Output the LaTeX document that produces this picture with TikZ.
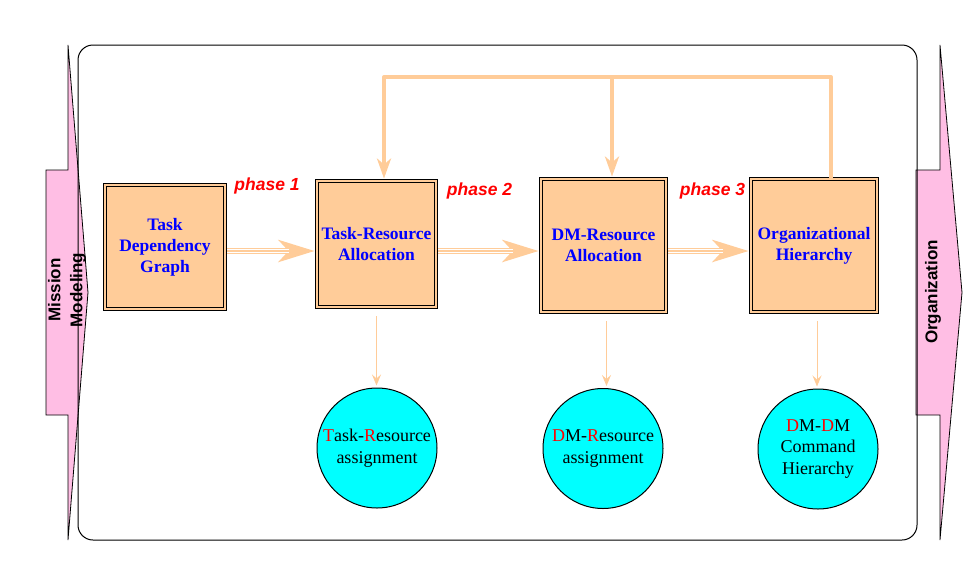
\documentclass[tikz,border=0pt]{standalone}
\usepackage{fontspec}
\setmainfont{Liberation Serif}
\setsansfont{Liberation Sans}
\usetikzlibrary{arrows.meta}
\definecolor{peach}{RGB}{255,204,153}
\definecolor{arr}{RGB}{255,204,153}
\definecolor{pinkfill}{RGB}{255,190,228}
\definecolor{blu}{RGB}{0,0,255}
\definecolor{aqua}{RGB}{0,255,255}
\tikzset{
  stagebox/.style={draw=black, line width=0.9pt, double=peach, double distance=2pt, fill=peach,
    inner sep=0pt, align=center, text=blu, font=\fontsize{17.5}{21}\selectfont\bfseries},
  result/.style={circle, draw=black, line width=1pt, fill=aqua, minimum size=120pt, inner sep=0pt,
    align=center, font=\fontsize{18}{21.5}\selectfont},
  phaselbl/.style={text=red, font=\sffamily\bfseries\itshape\fontsize{17.5}{21}\selectfont},
  sidelbl/.style={font=\sffamily\bfseries\fontsize{17}{22}\selectfont, rotate=90, align=center},
  sidearrow/.style={fill=pinkfill, draw=black, line width=0.8pt, line join=miter},
  fbline/.style={draw=arr, line width=4pt},
  fbtip/.style={-{Stealth[length=20pt,width=14pt,inset=6pt]}},
  thinarrow/.style={draw=arr, line width=1pt, -{Stealth[length=11pt,width=9pt,inset=4pt]}},
  bigtip/.style={-{Stealth[length=36pt,width=22pt,inset=10pt]}},
}
\begin{document}
\begin{tikzpicture}[x=1pt,y=-1pt]
\useasboundingbox (0,0) rectangle (978,566);
% side arrows
\draw[sidearrow] (46,170) -- (68,170) -- (68,45) -- (88,292.5) -- (68,540) -- (68,415) -- (46,415) -- cycle;
\draw[sidearrow] (916,170) -- (940,170) -- (940,45) -- (962,292.5) -- (940,540) -- (940,415) -- (916,415) -- cycle;
\node[sidelbl] (mm) at (67,290) {Mission\\Modeling};
\node[sidelbl] (org) at (933,292) {Organization};
% frame
\node[draw=black, line width=1pt, rounded corners=15pt, minimum width=839pt, minimum height=495pt, inner sep=0pt] (frame) at (497.5,292.5) {};
% stage boxes
\node[stagebox, minimum width=120pt, minimum height=124pt] (b1) at (165,247) {Task\\Dependency\\Graph};
\node[stagebox, minimum width=119pt, minimum height=126pt] (b2) at (376.5,244) {Task-Resource\\Allocation};
\node[stagebox, minimum width=125pt, minimum height=133pt] (b3) at (603.5,245.5) {DM-Resource\\Allocation};
\node[stagebox, minimum width=126pt, minimum height=133pt] (b4) at (814,245.5) {Organizational\\Hierarchy};
% results
\node[result] (c1) at (377,448) {{\color{red}T}ask-{\color{red}R}esource\\assignment};
\node[result] (c2) at (603,448.5) {{\color{red}D}M-{\color{red}R}esource\\assignment};
\node[result] (c3) at (818,449) {{\color{red}D}M-{\color{red}D}M\\Command\\Hierarchy};
% phase labels
\node[phaselbl] (p1) at (267,186) {phase 1};
\node[phaselbl] (p2) at (479.5,191) {phase 2};
\node[phaselbl] (p3) at (712.5,191) {phase 3};
% phase arrows
\coordinate (hy) at (0,251);
\foreach \a/\b in {b1/b2,b2/b3,b3/b4}{
  \draw[draw=arr, line width=5.5pt, bigtip, shorten <=2pt, shorten >=2pt] (\a.east |- hy) -- (\b.west |- hy);
  \draw[white, line width=3.4pt, shorten <=2pt, shorten >=28pt] (\a.east |- hy) -- (\b.west |- hy);
  \draw[arr, line width=1.1pt, shorten <=2pt, shorten >=28pt] (\a.east |- hy) -- (\b.west |- hy);
}
% feedback
\coordinate (f2) at (384,77);
\coordinate (f3) at (612,77);
\coordinate (f4) at (831,77);
\draw[fbline, fbtip, shorten >=2pt, line join=round] (b4.north -| f4) -- (f4) -- (f2) -- (b2.north -| f2);
\draw[fbline, fbtip, shorten >=2pt] (f3) -- (b3.north -| f3);
% down arrows
\draw[thinarrow, shorten <=9pt, shorten >=2pt] (b2.south) -- (b2.south |- c1.north);
\draw[thinarrow, shorten <=9pt, shorten >=2pt] ([xshift=3pt]b3.south) -- ([xshift=3pt]b3.south |- c2.north);
\draw[thinarrow, shorten <=9pt, shorten >=2pt] ([xshift=3pt]b4.south) -- ([xshift=3pt]b4.south |- c3.north);
\end{tikzpicture}
\end{document}
